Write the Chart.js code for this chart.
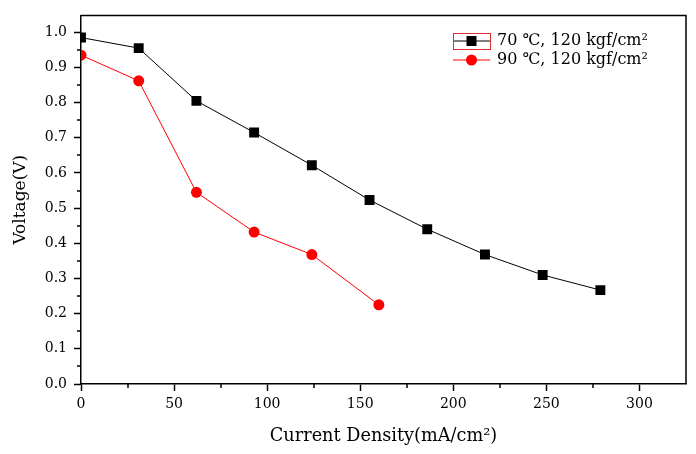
<!DOCTYPE html>
<html>
<head>
<meta charset="utf-8">
<script src="https://cdn.jsdelivr.net/npm/chart.js@4"></script>
<style>
  html, body { margin: 0; padding: 0; background: #fff; }
  #wrap { width: 696px; height: 454px; }
</style>
</head>
<body>
<div id="wrap"><canvas id="chart"></canvas></div>
<script>
// data
const current70 = [0, 31, 62, 93, 124, 155, 186, 217, 248, 279];
const voltage70 = [0.985, 0.955, 0.805, 0.715, 0.622, 0.523, 0.44, 0.368, 0.31, 0.267];
const current90 = [0, 31, 62, 93, 124, 160];
const voltage90 = [0.935, 0.862, 0.545, 0.432, 0.368, 0.225];

const label70 = '70 \u2103, 120 kgf/cm\u00B2';
const label90 = '90 \u2103, 120 kgf/cm\u00B2';
const xTitle = 'Current Density(mA/cm\u00B2)';
const yTitle = 'Voltage(V)';

const serif = '"DejaVu Serif", "Liberation Serif", serif';

const toPoints = (xs, ys) => xs.map((x, i) => ({ x: x, y: ys[i] }));

// frame on top/right + minor ticks
const framePlugin = {
    id: 'frame',
    afterDraw(chart) {
        const { ctx, chartArea: a, scales } = chart;
        ctx.save();
        ctx.strokeStyle = '#000';
        ctx.lineWidth = 1.5;
        ctx.beginPath();
        ctx.moveTo(a.left, a.top);
        ctx.lineTo(a.right, a.top);
        ctx.lineTo(a.right, a.bottom);
        ctx.stroke();

        ctx.beginPath();
        for (let v = 25; v < scales.x.max; v += 50) {
            const px = Math.round(scales.x.getPixelForValue(v));
            ctx.moveTo(px, a.bottom);
            ctx.lineTo(px, a.bottom + 4);
        }
        for (let v = 0.05; v < scales.y.max; v += 0.1) {
            const py = Math.round(scales.y.getPixelForValue(v));
            ctx.moveTo(a.left, py);
            ctx.lineTo(a.left - 4, py);
        }
        ctx.stroke();
        ctx.restore();
    }
};

// legend drawn in the top right corner
const legendPlugin = {
    id: 'sideLegend',
    afterDraw(chart) {
        const { ctx } = chart;
        const x0 = 453, x1 = 490;
        const rows = [41, 60];
        ctx.save();
        chart.data.datasets.forEach((ds, i) => {
            const y = rows[i];
            ctx.strokeStyle = ds.borderColor;
            ctx.lineWidth = 1;
            ctx.beginPath();
            ctx.moveTo(x0, y);
            ctx.lineTo(x1, y);
            ctx.stroke();
            ctx.fillStyle = ds.pointBackgroundColor;
            const mx = (x0 + x1) / 2;
            if (ds.pointStyle === 'rect') {
                ctx.fillRect(mx - 5, y - 5, 10, 10);
            } else {
                ctx.beginPath();
                ctx.arc(mx, y, 5.5, 0, Math.PI * 2);
                ctx.fill();
            }
            ctx.fillStyle = '#000';
            ctx.font = '16px ' + serif;
            ctx.textBaseline = 'middle';
            ctx.fillText(ds.label, 497, y);
        });
        // selection box around first symbol
        ctx.strokeStyle = '#e03030';
        ctx.lineWidth = 1;
        ctx.strokeRect(x0 + 0.5, 33.5, x1 - x0, 16);
        ctx.restore();
    }
};

new Chart(document.getElementById('chart'), {
    type: 'scatter',
    data: {
        datasets: [{
            label: label70,
            data: toPoints(current70, voltage70),
            showLine: true,
            borderColor: '#000',
            borderWidth: 1,
            pointStyle: 'rect',
            pointRadius: 7,
            pointBackgroundColor: '#000',
            pointBorderWidth: 0
        }, {
            label: label90,
            data: toPoints(current90, voltage90),
            showLine: true,
            borderColor: '#ff0000',
            borderWidth: 1,
            pointStyle: 'circle',
            pointRadius: 5.5,
            pointBackgroundColor: '#ff0000',
            pointBorderWidth: 0
        }]
    },
    options: {
        responsive: true,
        maintainAspectRatio: false,
        animation: false,
        layout: { padding: { top: 13, right: 10, left: 0, bottom: 0 } },
        plugins: {
            legend: { display: false },
            tooltip: { enabled: false }
        },
        scales: {
            x: {
                type: 'linear',
                min: 0,
                max: 325,
                afterFit: s => { s.height = 70; },
                afterBuildTicks: s => { s.ticks = [0, 50, 100, 150, 200, 250, 300].map(v => ({ value: v })); },
                grid: { drawOnChartArea: false, tickLength: 7, tickColor: '#000', tickWidth: 1.5 },
                border: { color: '#000', width: 1.5 },
                ticks: { color: '#000', font: { family: serif, size: 14 }, padding: 5, maxRotation: 0 },
                title: { display: true, text: xTitle, color: '#000', font: { family: serif, size: 17.7 }, padding: { top: 0, bottom: 7 } }
            },
            y: {
                min: 0,
                max: 1.048,
                afterFit: s => { s.width = 81; },
                afterBuildTicks: s => { s.ticks = [0, 0.1, 0.2, 0.3, 0.4, 0.5, 0.6, 0.7, 0.8, 0.9, 1.0].map(v => ({ value: v })); },
                grid: { drawOnChartArea: false, tickLength: 7, tickColor: '#000', tickWidth: 1.5 },
                border: { color: '#000', width: 1.5 },
                ticks: { color: '#000', font: { family: serif, size: 14 }, padding: 7, callback: v => v.toFixed(1) },
                title: { display: true, text: yTitle, color: '#000', font: { family: serif, size: 17 }, padding: { top: 10, bottom: 0 } }
            }
        }
    },
    plugins: [framePlugin, legendPlugin]
});
</script>
</body>
</html>
